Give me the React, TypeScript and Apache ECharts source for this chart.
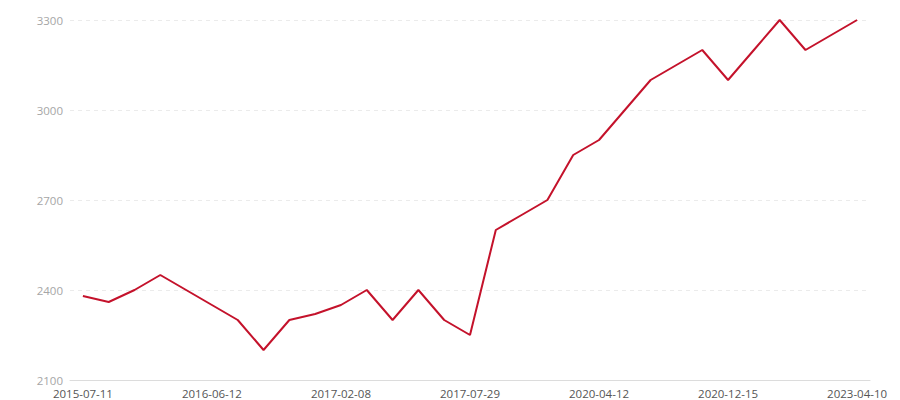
import React, { useEffect, useRef } from "react";
import * as echarts from "echarts";

const categories = [
  "2015-07-11", "2015-09-20", "2015-11-28", "2016-02-05", "2016-04-14",
  "2016-06-12", "2016-07-30", "2016-09-18", "2016-11-06", "2016-12-20",
  "2017-02-08", "2017-03-12", "2017-04-15", "2017-05-20", "2017-06-24",
  "2017-07-29", "2018-03-10", "2018-09-22", "2019-04-05", "2019-10-18",
  "2020-04-12", "2020-05-30", "2020-07-18", "2020-09-05", "2020-10-28",
  "2020-12-15", "2021-06-20", "2021-12-25", "2022-06-30", "2022-11-18",
  "2023-04-10",
];

const values = [
  2380, 2360, 2400, 2450, 2400,
  2350, 2300, 2200, 2300, 2320,
  2350, 2400, 2300, 2400, 2300,
  2250, 2600, 2650, 2700, 2850,
  2900, 3000, 3100, 3150, 3200,
  3100, 3200, 3300, 3200, 3250,
  3300,
];

const yMin = 2100;
const yMax = 3300;
const yInterval = 300;

export default function App() {
  const ref = useRef<HTMLDivElement>(null);
  useEffect(() => {
    if (!ref.current) return;
    const chart = echarts.init(ref.current, undefined, { renderer: "svg" });
    chart.setOption({
      animation: false,
      textStyle: { fontFamily: "'Open Sans', 'Noto Sans', sans-serif" },
      grid: { left: 70, right: 30, top: 20, bottom: 20, containLabel: false },
      xAxis: {
        type: "category",
        data: categories,
        boundaryGap: true,
        axisLine: { lineStyle: { color: "#dcdcdc", width: 1 } },
        axisTick: { interval: 4, alignWithLabel: true, lineStyle: { color: "#dcdcdc" }, length: 4 },
        axisLabel: { interval: 4, color: "#555", fontSize: 11.5, margin: 7, lineHeight: 13 },
      },
      yAxis: {
        type: "value",
        min: yMin,
        max: yMax,
        interval: yInterval,
        axisLine: { show: false },
        axisTick: { show: false },
        axisLabel: {
          color: "#a6a6a6",
          fontSize: 11.5,
          margin: 7,
          formatter: (v: number) => String(v),
        },
        splitLine: { lineStyle: { color: "#ebebeb", type: [4, 4] } },
      },
      series: [
        {
          type: "line",
          data: values,
          showSymbol: false,
          symbol: "none",
          lineStyle: { color: "#c4122b", width: 2 },
          itemStyle: { color: "#c4122b" },
        },
      ],
    });
    return () => chart.dispose();
  }, []);
  return (
    <div
      ref={ref}
      style={{ position: "fixed", left: 0, top: 0, width: 900, height: 400, background: "#fff" }}
    />
  );
}
